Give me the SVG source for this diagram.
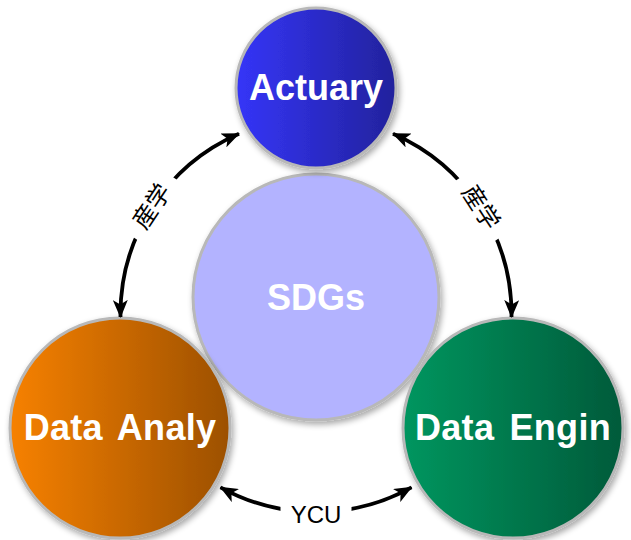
<svg xmlns="http://www.w3.org/2000/svg" width="631" height="540" viewBox="0 0 631 540">
  <defs>
    <linearGradient id="gBlue" x1="0" y1="0" x2="1" y2="0">
      <stop offset="0" stop-color="#3535f8"/>
      <stop offset="1" stop-color="#22229c"/>
    </linearGradient>
    <linearGradient id="gOrange" x1="0" y1="0" x2="1" y2="0">
      <stop offset="0" stop-color="#f78100"/>
      <stop offset="1" stop-color="#9c5000"/>
    </linearGradient>
    <linearGradient id="gGreen" x1="0" y1="0" x2="1" y2="0">
      <stop offset="0" stop-color="#00965f"/>
      <stop offset="1" stop-color="#005a3a"/>
    </linearGradient>
    <filter id="shadow" x="-20%" y="-20%" width="140%" height="140%">
      <feGaussianBlur in="SourceAlpha" stdDeviation="3"/>
      <feOffset dx="2" dy="3" result="b"/>
      <feComponentTransfer><feFuncA type="linear" slope="0.35"/></feComponentTransfer>
      <feMerge><feMergeNode/><feMergeNode in="SourceGraphic"/></feMerge>
    </filter>
    <marker id="arr" viewBox="0 0 18 15" refX="17" refY="7.5" markerWidth="18" markerHeight="15" markerUnits="userSpaceOnUse" orient="auto-start-reverse">
      <path d="M0,0 L18,7.5 L0,15 L4.5,7.5 Z" fill="#000"/>
    </marker>
  </defs>
  <style>
    .node { stroke: #b8b8b8; stroke-width: 3; filter: url(#shadow); }
    .lbl { font-family: "Liberation Sans", Arial, sans-serif; font-weight: bold; font-size: 36px; fill: #fff; text-anchor: middle; }
    .wide { word-spacing: 5px; letter-spacing: 0.3px; }
    .conn { fill: none; stroke: #000; stroke-width: 3.8; marker-start: url(#arr); marker-end: url(#arr); }
    .elbl { font-family: "Liberation Sans", "Noto Sans CJK JP", sans-serif; font-size: 24px; fill: #000; text-anchor: middle; dominant-baseline: central; }
  </style>

  <g id="sdgs">
    <circle class="node" cx="316" cy="297" r="123" fill="#b3b3ff"/>
    <text class="lbl" x="316" y="310">SDGs</text>
  </g>
  <g id="actuary">
    <circle class="node" cx="316" cy="88" r="80" fill="url(#gBlue)"/>
    <text class="lbl" x="316" y="100">Actuary</text>
  </g>
  <g id="data-analy">
    <circle class="node" cx="120" cy="428" r="110" fill="url(#gOrange)"/>
    <text class="lbl wide" x="120" y="440">Data Analy</text>
  </g>
  <g id="data-engin">
    <circle class="node" cx="513" cy="428" r="110" fill="url(#gGreen)"/>
    <text class="lbl wide" x="513" y="440">Data Engin</text>
  </g>

  <g id="connectors">
    <path class="conn" d="M239,133.7 A197,197 0 0 0 120.5,317"/>
    <path class="conn" d="M393,133.7 A197,197 0 0 1 511.5,317"/>
    <path class="conn" d="M220.5,487.3 A197,197 0 0 0 411.5,487.3"/>
    <g transform="translate(151.7,206.3) rotate(-56.5)">
      <rect x="-36" y="-15" width="72" height="30" fill="#fff"/>
      <text class="elbl" x="0" y="0">産学</text>
    </g>
    <g transform="translate(480.9,207.1) rotate(56.8)">
      <rect x="-36" y="-15" width="72" height="30" fill="#fff"/>
      <text class="elbl" x="0" y="0">産学</text>
    </g>
    <rect x="280.5" y="500" width="71" height="28" fill="#fff"/>
    <text x="316" y="523" font-family="Liberation Sans, Arial, sans-serif" font-size="24" text-anchor="middle" fill="#000">YCU</text>
  </g>
</svg>
